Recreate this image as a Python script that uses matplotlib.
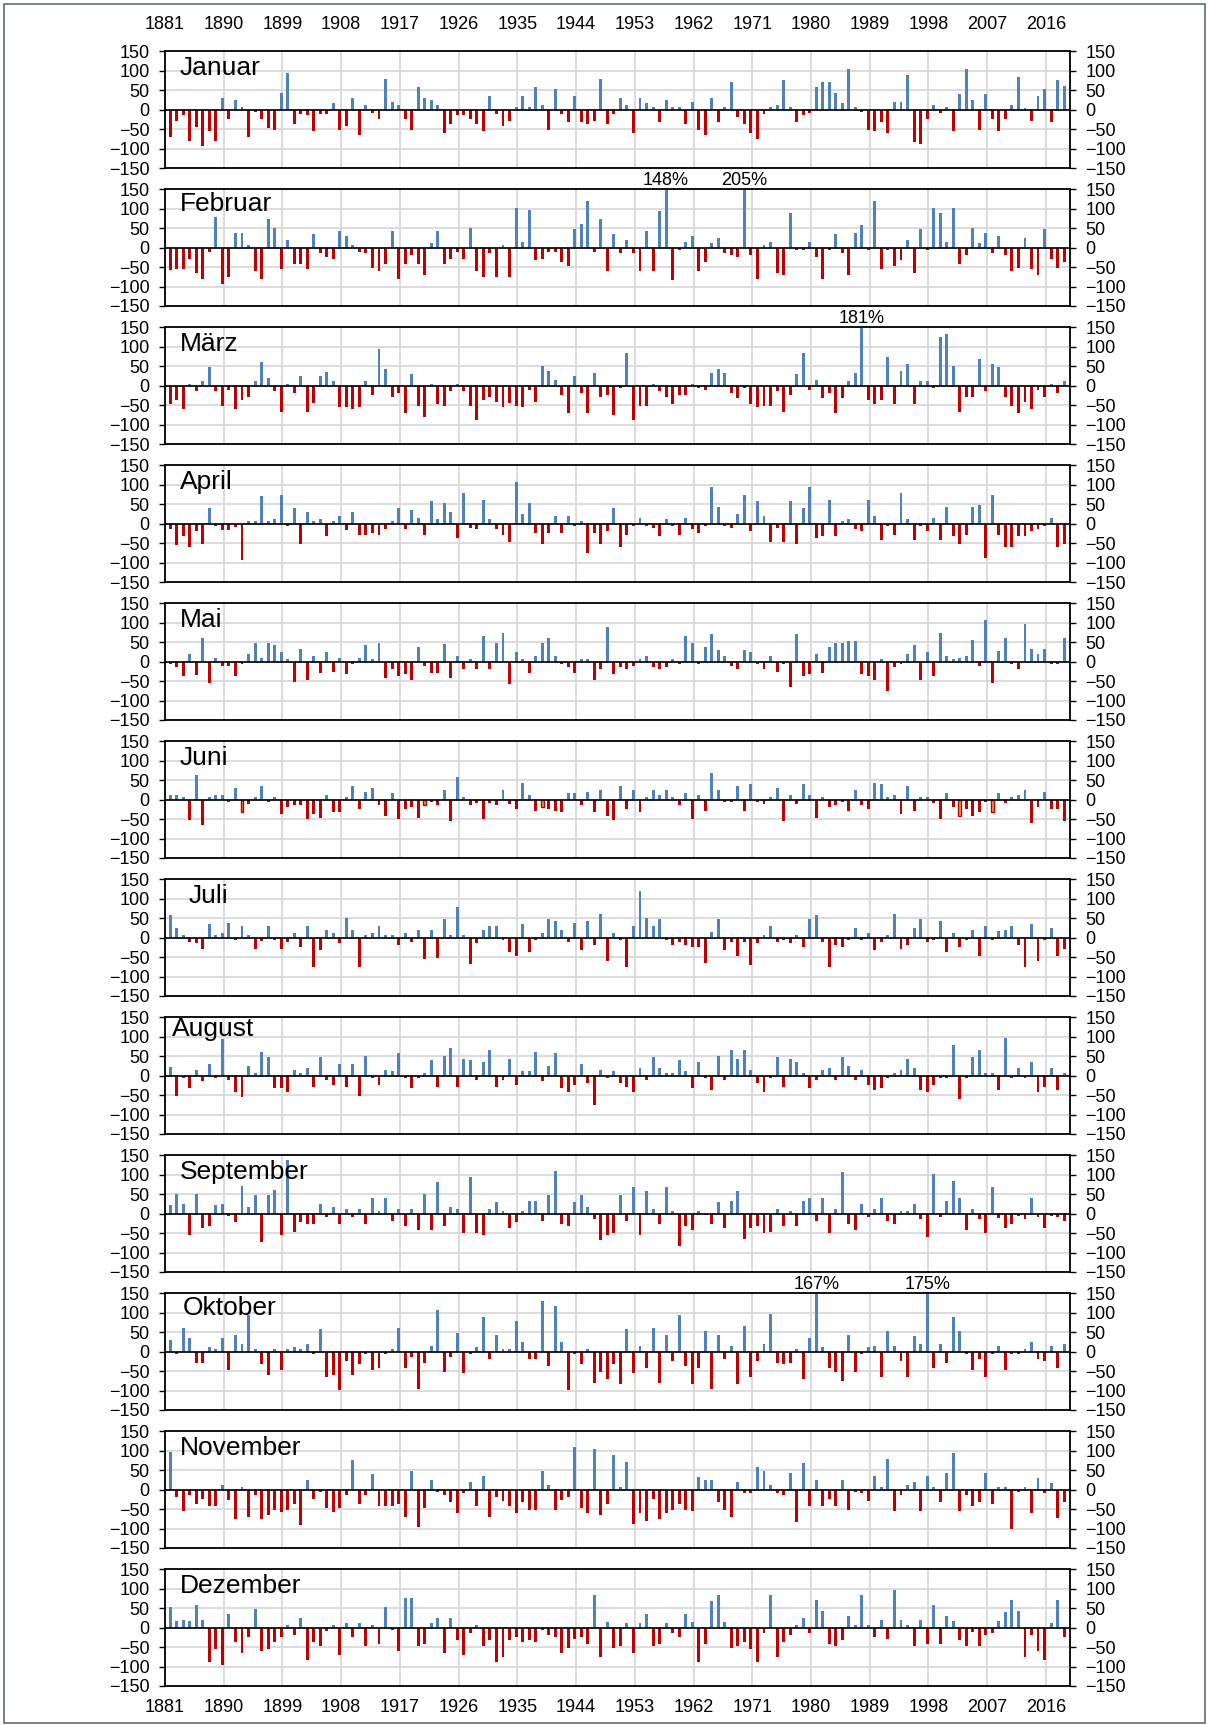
import numpy as np
import matplotlib
matplotlib.use("Agg")
import matplotlib.pyplot as plt
from matplotlib.patches import Rectangle

plt.rcParams["font.family"] = ["Liberation Sans", "DejaVu Sans"]

# ---------------------------------------------------------------------------
# Data: monthly precipitation anomaly in %, 1881-2018
# ---------------------------------------------------------------------------
years = np.arange(1881, 2019)
months = ["Januar", "Februar", "März", "April", "Mai", "Juni", "Juli",
          "August", "September", "Oktober", "November", "Dezember"]

jan = [-70, -29, -14, -80, -44, -94, -56, -80, 30, -25,
       25, 7, -70, -7, -25, -48, -52, 44, 95, -37,
       -11, -14, -56, -11, -11, 16, -52, -43, 30, -65,
       11, -9, -25, 80, 20, 13, -25, -52, 58, 30,
       25, 11, -61, -37, -14, -14, -25, -37, -56, 34,
       -11, -43, -30, 7, 34, 7, 58, 11, -52, 54,
       -11, -33, 34, -33, -38, -30, 80, -38, -11, 30,
       11, -61, 30, 16, 7, -33, 25, 7, 7, -38,
       20, -52, -65, 30, -33, 7, 71, -20, -38, -61,
       -75, -11, 7, 11, 76, 7, -33, -15, -9, 58,
       71, 71, 44, 16, 104, 7, -7, -52, -56, -33,
       -61, 20, 20, 90, -84, -89, -25, 11, -9, 7,
       -56, 39, 104, 25, -52, 39, -25, -56, -25, 11,
       85, 3, -30, 34, 52, -33, 76, 62]
feb = [-58, -56, -56, -30, -65, -80, -11, 80, -94, -75,
       38, 38, 7, -61, -80, 74, 51, -56, 20, -43,
       -43, -56, 34, -15, -25, -30, 43, 30, 7, -11,
       -15, -52, -61, -43, 43, -80, -43, -20, -43, -70,
       11, 43, -43, -30, -11, -30, 51, -61, -75, -15,
       -75, 7, -75, 102, 15, 98, -33, -30, -11, -11,
       -37, -48, 49, 62, 120, -11, 74, -61, 34, -15,
       20, -15, -61, 43, -61, 94, 148, -84, -7, 15,
       30, -61, -37, 11, 25, -15, -20, -25, 205, -20,
       -80, 7, 15, -65, -70, 90, -7, -7, 15, -25,
       -80, -7, 34, -15, -70, 38, 58, -7, 120, -56,
       -7, -48, -33, 20, -65, 49, -7, 102, 90, 15,
       102, -43, -20, 51, 11, 38, -15, 30, -20, -61,
       -52, 25, -56, -70, 49, -30, -52, -37]
mar = [-48, -37, -61, 5, -15, 11, 47, -15, -52, -11,
       -61, -38, -30, 11, 62, 20, -15, -67, 5, -20,
       24, -67, -45, 24, 34, 11, -56, -56, -61, -56,
       11, -25, 94, 43, -30, -20, -70, 29, -52, -80,
       5, -48, -52, -15, 5, -15, -52, -89, -38, -30,
       -43, -56, -45, -52, -56, -11, -43, 51, 38, 15,
       -25, -70, 24, -20, -70, 33, -30, -25, -75, -7,
       84, -89, -52, -52, 5, -15, -30, -48, -25, -25,
       5, -7, -11, 33, 43, 33, -20, -33, -7, -48,
       -56, -52, -52, -15, -67, -25, 29, 84, -11, 15,
       -33, -20, -70, -33, 11, 33, 181, -38, -48, -37,
       74, -48, 38, 56, -48, 11, 11, -7, 125, 134,
       51, -67, -30, -30, 69, -15, 56, 47, -30, -52,
       -70, -43, -61, -11, -30, 5, -20, 11]
apr = [-15, -56, -33, -61, -20, -52, 39, -7, -17, -17,
       -9, -94, 6, 6, 70, 6, 11, 74, -7, 39,
       -52, 29, 6, 11, -33, 6, 20, -17, 29, -30,
       -30, -24, -30, -15, 6, 39, -15, 34, 15, -30,
       57, 11, 52, 29, -38, 80, -10, -15, 61, 11,
       -15, -30, -48, 107, 24, 52, -24, -52, -24, 20,
       -24, 20, -7, 6, -75, -24, -52, -20, 39, -61,
       -30, -7, 15, -7, -10, -33, 11, -7, -30, 15,
       -15, -24, -7, 94, 43, -7, -10, 24, 74, -20,
       57, 20, -48, -10, -48, 57, -52, 39, 94, -37,
       -33, 61, -33, 6, 11, -15, -20, 61, 20, -43,
       -7, -30, 80, 11, -43, -7, -20, 15, -43, 43,
       -33, -52, -30, 43, 48, -89, 74, -30, -61, -61,
       -33, -33, -20, -15, -7, 15, -61, -52]
may = [-7, -15, -38, 20, -35, 60, -56, 9, -10, -10,
       -38, -7, 20, 49, 9, 49, 43, 24, 6, -52,
       33, -48, 15, -30, 24, -26, 9, -33, -7, 9,
       43, 6, 49, -43, -20, -38, -33, -48, 38, -12,
       -30, -30, 46, -43, 15, -20, 6, -20, 65, -20,
       48, 74, -58, 24, 6, -30, 15, 49, 61, 15,
       -7, -15, -30, 6, 6, -48, -20, 89, -33, -15,
       -20, -10, 6, 15, -15, -20, -15, 6, -7, 65,
       49, -7, 38, 70, 29, 15, -12, -20, 29, 24,
       -7, -20, 15, -26, -7, -66, 70, -38, -33, 20,
       -30, 38, 49, 49, 54, 54, -33, -38, -48, 6,
       -75, -15, -7, 20, 43, -48, 24, -38, 74, 15,
       6, 9, 15, 56, -10, 107, -56, 28, 61, -7,
       -20, 98, 33, 20, 33, -7, -7, 61]
jun = [11, 11, 6, -52, 63, -65, 6, 11, 11, -6,
       30, -33, -11, 6, 34, -6, 6, -37, -20, -15,
       -15, -50, -37, -48, 11, -33, -33, 6, 34, -25,
       20, 30, -14, -43, 16, -50, -24, -20, -47, -14,
       -6, -15, 25, -56, 58, 6, -14, -9, -50, -9,
       -14, 25, -11, -25, 44, 11, -29, -20, -25, -29,
       -33, 16, 16, -15, 20, -33, 25, -43, -52, 34,
       -25, 25, -33, 6, 25, 11, 25, 6, -15, 16,
       -50, 11, -29, 68, 25, -6, -6, 34, -29, 40,
       -6, -11, 6, 30, -56, 11, -11, 40, 11, -47,
       6, -20, -14, -6, -29, 25, -14, -25, 44, 40,
       6, 11, -38, 34, -29, 6, 6, -9, -50, 16,
       -20, -43, -25, -43, -33, -7, -33, 16, -9, 6,
       11, 25, -60, -20, 20, -25, -25, -56]
jul = [58, 25, 6, -11, -15, -30, 34, 6, 11, 38,
       -6, 30, 6, -30, -9, 30, -6, -30, -11, 11,
       -25, 30, -75, -33, 20, 11, -15, 51, 20, -75,
       6, 11, 30, 6, 6, -20, 11, -11, 20, -56,
       20, -52, 49, 6, 80, 6, -67, -15, 20, 30,
       30, -7, -38, -47, 34, -38, -7, 11, 49, 44,
       20, -11, 38, -33, 44, -20, 62, -61, 11, -6,
       -75, 30, 120, 51, 30, 49, -7, -20, -11, -20,
       -25, -25, -65, 15, 49, -33, -11, -48, -11, -70,
       -15, 7, 30, -11, -7, -15, 7, -25, 49, 58,
       -11, -75, -20, -25, -7, 25, -7, 11, -33, -11,
       7, 62, -30, -20, 25, 49, -11, -7, 44, -38,
       11, -25, -7, 20, -48, 30, -7, 16, 20, 30,
       -20, -75, 34, -61, -7, 25, -48, -30]
aug = [22, -52, -7, -33, 15, -15, 29, -7, 94, -10,
       -43, -56, 26, 7, 62, 48, -33, -33, -43, 15,
       7, 20, -30, 48, -12, -24, 29, -30, 29, -52,
       51, -7, -24, 15, 11, 57, -7, -33, -7, 7,
       39, -30, 51, 71, -30, 43, 39, -10, 35, 66,
       -30, -10, 43, -24, 11, 11, 62, -15, 26, 57,
       -33, -43, -24, 29, -20, -75, 15, -7, 11, -20,
       -30, -43, 20, -10, 48, 20, 7, 7, 39, 11,
       -33, 35, -7, -37, 51, -10, 66, 43, 66, 15,
       -20, -43, -7, 48, -30, 43, 35, 7, -33, -10,
       15, 20, -10, 48, 26, -10, 15, -24, -37, -33,
       -7, 7, 15, 43, 20, -37, -43, -24, -7, -7,
       80, -61, -7, 48, 66, 7, 7, -37, 98, -7,
       20, -7, 35, -43, -30, 20, -37, 7]
sep = [22, 50, 26, -55, 50, -36, -32, 22, 26, -5,
       -22, 72, 17, 49, -72, 49, 60, -55, 137, -46,
       -22, -26, -26, 26, -8, 17, -26, 13, -8, 13,
       -26, 41, 8, 41, -19, 13, -32, 13, -42, 50,
       -42, 82, -32, 17, 13, -50, 95, -50, -55, 13,
       31, 8, -36, -22, 8, 33, 33, -19, 49, 109,
       -27, -32, 31, 49, 17, -14, -69, -55, -50, 49,
       -19, 68, -55, 59, 13, -27, 68, 8, -82, -32,
       -42, 8, -3, -27, 31, -36, 33, 59, -65, -36,
       -32, -50, -46, 13, -32, 8, -32, 33, 41, -19,
       41, -50, 13, 106, -27, -42, 26, -8, 13, 41,
       -19, -27, 8, 8, 26, -14, -59, 102, -8, 33,
       84, 41, -42, 13, -14, -50, 68, -10, -36, -27,
       -5, -14, 41, -8, -36, -5, -8, -19]
okt = [29, -7, 62, 34, -30, -30, 11, 7, 34, -48,
       43, 20, 94, 7, -33, -61, 7, -48, 7, 11,
       7, 20, -7, 57, -66, -61, -99, -24, -61, -33,
       -7, -48, -43, -7, 7, 62, -43, -15, -95, -30,
       15, 107, -52, -15, 48, -56, -7, 11, 89, -20,
       43, 7, 7, 80, 26, -20, -20, 131, -38, 117,
       26, -99, -7, -33, 7, -80, -52, -71, -33, -84,
       57, -56, 15, -43, 62, -80, 43, -24, 94, -37,
       -84, -43, 52, -95, 43, -20, 15, -84, 66, -66,
       -24, 20, 98, -30, -33, -30, 7, -71, 34, 167,
       11, -43, -52, -75, 43, -52, -7, 11, 15, -66,
       52, 15, -24, -66, 39, 20, 175, -43, 20, -30,
       89, 52, -7, -48, -20, -66, -7, 15, -48, -7,
       -7, 7, 26, -20, -24, 15, -43, 20]
nov = [98, -19, -56, -14, -37, -25, -43, -43, 13, -27,
       -75, 7, -71, -14, -75, -65, -52, -58, -52, -37,
       -92, 25, -24, -6, -48, -58, -48, -14, 76, -37,
       -14, 39, -43, -43, -43, -37, -71, 47, -97, -48,
       25, -6, -14, -32, -61, -9, 20, -43, 35, -70,
       -20, -29, -43, -61, -32, -52, -52, 49, 13, -52,
       -27, -19, 109, -48, -61, 104, -65, -37, 90, 7,
       71, -89, -60, -80, -25, -75, -61, -52, -37, -52,
       -56, 32, 26, 26, -33, -52, -70, 20, -9, -9,
       58, 49, 13, -9, -15, 44, -84, 68, -43, 26,
       -43, -25, -43, 26, -52, -6, -9, -29, 35, 7,
       80, -56, -14, 13, 20, -56, 35, 7, -33, 44,
       95, -56, -14, -43, -33, 44, -37, 7, 7, -101,
       -6, 7, -60, 30, -9, 16, -74, -32]
dez = [53, 16, 20, 16, 58, 20, -88, -56, -97, 34,
       -37, -65, -25, 49, -61, -56, -37, -25, 7, -20,
       25, -84, -37, -48, -9, 7, -70, 11, -25, 11,
       -48, 7, -43, 53, -7, -61, 76, 76, -48, -43,
       11, 25, -65, 25, -33, -70, -15, 7, -48, -33,
       -89, -75, -33, -25, -37, -33, -37, -6, -20, -25,
       -65, -52, -30, -25, -43, 85, -75, 15, -52, -48,
       11, -65, 11, 34, -48, -43, 11, -15, -25, 34,
       15, -89, -43, 68, 85, 15, -52, -48, -38, -56,
       -89, -15, 85, -75, -37, -20, 7, 25, -15, 71,
       44, -43, -48, -33, 30, 7, 85, 7, -25, 20,
       -30, 98, 20, 7, -48, 20, -43, 58, -43, 30,
       16, -33, -48, -11, -48, -20, -15, 16, 39, 71,
       44, -75, -20, -61, -84, 11, 71, -25]

series = [jan, feb, mar, apr, may, jun, jul, aug, sep, okt, nov, dez]
jun_orange = [11, 39, 57, 121, 126]     # June bars drawn with orange fill

x_ticks = list(range(1881, 2017, 9))
y_ticks = list(range(-150, 151, 50))

# ---------------------------------------------------------------------------
# Layout (pixels of the 1211 x 1725 output)
# ---------------------------------------------------------------------------
W, H = 1211, 1725
LEFT, RIGHT = 165, 1070
TOP0, PANEL_H, STEP = 51.3, 116.7, 138.0

BLUE = "#4f81bd"
RED = "#c00000"
GRID = "#d9d9d9"

fig = plt.figure(figsize=(W / 100, H / 100), dpi=100)
fig.patch.set_facecolor("white")

label_pos = {"Juli": (0.026, 0.855), "August": (0.008, 0.90),
             "Oktober": (0.020, 0.875), "Februar": (0.016, 0.875)}

for k, (name, vals) in enumerate(zip(months, series)):
    top = TOP0 + STEP * k
    ax = fig.add_axes([LEFT / W, 1 - (top + PANEL_H) / H,
                       (RIGHT - LEFT) / W, PANEL_H / H])
    vals = np.asarray(vals, dtype=float)
    xpos = years + 0.8
    colors = [BLUE if v >= 0 else RED for v in vals]
    bars = ax.bar(xpos, vals, width=0.45, color=colors, linewidth=0, zorder=2)
    if name == "Juni":
        for i in jun_orange:
            bars[i].set_facecolor("#f0a040")
            bars[i].set_edgecolor(RED)
            bars[i].set_linewidth(1.0)

    ax.axhline(0, color="black", lw=1.2, zorder=3)
    ax.set_xlim(1881, 2019.7)
    ax.set_ylim(-150, 150)
    ax.set_xticks(x_ticks)
    ax.set_yticks(y_ticks)
    ax.grid(True, color=GRID, lw=1.3)
    ax.set_axisbelow(True)
    for sp in ax.spines.values():
        sp.set_linewidth(1.3)
        sp.set_color("black")

    ax.tick_params(axis="y", left=True, right=True, labelleft=True,
                   labelright=True, direction="out", length=4, width=1,
                   labelsize=13, pad=7)
    ax.tick_params(axis="x", length=0, labelsize=13,
                   top=False, bottom=False,
                   labeltop=(k == 0), labelbottom=(k == len(months) - 1),
                   pad=13 if k == 0 else 9)

    lx, ly = label_pos.get(name, (0.016, 0.86))
    ax.text(lx, ly, name, transform=ax.transAxes, fontsize=19,
            ha="left", va="center", zorder=5)

    # values beyond the axis get a percent label above the frame
    for x, v in zip(xpos, vals):
        if v > 140:
            ax.text(x, 151, f"{int(v)}%", ha="center", va="bottom",
                    fontsize=13, clip_on=False, zorder=5)

# thin frame round the whole chart
fig.add_artist(Rectangle((4 / W, 2 / H), 1 - 10 / W, 1 - 6 / H,
                         transform=fig.transFigure, fill=False,
                         edgecolor="#5b6b7c", lw=1.2))

fig.savefig("out.png", dpi=100)
